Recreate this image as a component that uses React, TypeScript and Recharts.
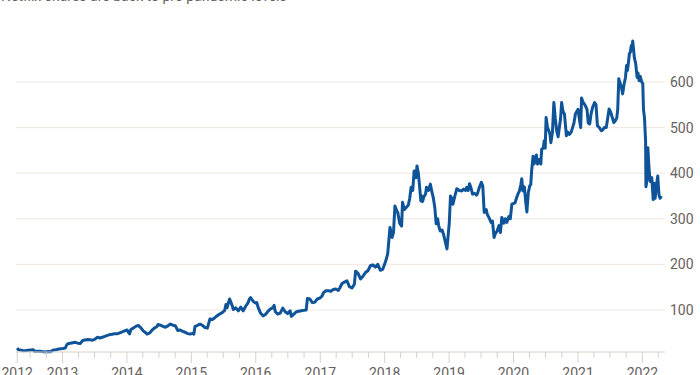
import { LineChart, Line, XAxis, YAxis, CartesianGrid } from 'recharts';

// Netflix share price ($), roughly weekly closes
const p2012: [string, number][] = [
  ['2012-04-19', 16.5], ['2012-04-26', 12.5], ['2012-05-10', 11.8], ['2012-05-24', 10.6], ['2012-06-07', 10.9],
  ['2012-06-21', 11.5], ['2012-07-05', 12.2], ['2012-07-19', 12.6], ['2012-07-26', 9.4], ['2012-08-09', 9.1],
  ['2012-08-23', 9.6], ['2012-09-06', 8.6], ['2012-09-20', 8.1], ['2012-09-27', 7.7], ['2012-10-11', 8.8],
  ['2012-10-25', 8.3], ['2012-11-08', 11.8], ['2012-11-22', 12.4], ['2012-12-06', 13.6], ['2012-12-20', 14.8],
];
const p2013: [string, number][] = [
  ['2013-01-03', 15.5], ['2013-01-17', 16.5], ['2013-01-24', 23], ['2013-01-31', 26], ['2013-02-14', 27],
  ['2013-02-28', 28], ['2013-03-14', 29], ['2013-03-28', 27], ['2013-04-11', 26.5], ['2013-04-25', 33],
  ['2013-05-09', 34], ['2013-05-23', 35], ['2013-06-06', 34.5], ['2013-06-20', 33.5], ['2013-07-04', 36],
  ['2013-07-18', 40], ['2013-08-01', 38.5], ['2013-08-15', 40], ['2013-08-29', 42], ['2013-09-12', 44],
  ['2013-09-26', 46], ['2013-10-10', 46.5], ['2013-10-24', 48], ['2013-11-07', 47.5], ['2013-11-21', 49.5],
  ['2013-12-05', 52], ['2013-12-19', 54],
];
const p2014: [string, number][] = [
  ['2014-01-02', 56], ['2014-01-09', 51], ['2014-01-16', 47.5], ['2014-01-23', 57], ['2014-02-06', 60],
  ['2014-02-20', 64], ['2014-03-06', 66], ['2014-03-20', 61], ['2014-04-03', 54], ['2014-04-17', 50],
  ['2014-04-24', 47], ['2014-05-08', 49], ['2014-05-22', 55], ['2014-06-05', 60], ['2014-06-19', 63],
  ['2014-06-26', 68], ['2014-07-10', 66.5], ['2014-07-24', 64], ['2014-08-07', 62], ['2014-08-21', 65],
  ['2014-09-04', 69], ['2014-09-18', 66.5], ['2014-10-02', 65.5], ['2014-10-16', 55], ['2014-10-30', 56],
  ['2014-11-13', 53], ['2014-11-27', 51], ['2014-12-11', 48], ['2014-12-25', 47],
];
const p2015: [string, number][] = [
  ['2015-01-08', 48.5], ['2015-01-15', 47], ['2015-01-22', 64], ['2015-02-05', 66], ['2015-02-19', 69],
  ['2015-03-05', 66], ['2015-03-19', 61.5], ['2015-04-02', 60], ['2015-04-16', 80], ['2015-04-30', 79],
  ['2015-05-14', 83], ['2015-05-28', 87.5], ['2015-06-11', 91], ['2015-06-25', 94], ['2015-07-09', 99],
  ['2015-07-16', 112], ['2015-07-23', 105], ['2015-07-30', 116], ['2015-08-06', 124], ['2015-08-20', 110],
  ['2015-08-27', 101], ['2015-09-10', 104.5], ['2015-09-24', 98], ['2015-10-08', 106], ['2015-10-22', 98],
  ['2015-11-05', 108], ['2015-11-19', 116], ['2015-11-26', 124], ['2015-12-03', 127], ['2015-12-17', 119],
  ['2015-12-31', 115],
];
const p2016: [string, number][] = [
  ['2016-01-07', 116], ['2016-01-14', 106], ['2016-01-28', 93], ['2016-02-11', 87], ['2016-02-25', 90],
  ['2016-03-10', 97], ['2016-03-24', 102], ['2016-04-07', 105], ['2016-04-14', 110], ['2016-04-21', 96],
  ['2016-05-05', 91], ['2016-05-19', 93], ['2016-06-02', 104], ['2016-06-16', 96], ['2016-06-30', 92],
  ['2016-07-14', 98], ['2016-07-21', 86], ['2016-08-04', 91], ['2016-08-18', 96], ['2016-09-01', 97],
  ['2016-09-15', 98], ['2016-09-29', 99], ['2016-10-13', 100], ['2016-10-20', 125], ['2016-11-03', 124],
  ['2016-11-17', 116], ['2016-12-01', 117], ['2016-12-15', 124], ['2016-12-29', 126],
];
const p2017: [string, number][] = [
  ['2017-01-12', 131], ['2017-01-19', 138], ['2017-02-02', 142], ['2017-02-16', 142], ['2017-03-02', 141],
  ['2017-03-16', 145], ['2017-03-30', 146], ['2017-04-13', 143], ['2017-04-20', 147], ['2017-05-04', 158],
  ['2017-05-18', 161], ['2017-06-01', 164], ['2017-06-15', 151], ['2017-06-29', 148], ['2017-07-13', 156],
  ['2017-07-20', 185], ['2017-08-03', 180], ['2017-08-17', 168], ['2017-08-31', 174], ['2017-09-14', 182],
  ['2017-09-28', 186], ['2017-10-12', 197], ['2017-10-26', 199], ['2017-11-09', 194], ['2017-11-23', 200],
  ['2017-12-07', 187], ['2017-12-21', 189],
];
const p2018: [string, number][] = [
  ['2018-01-01', 201], ['2018-01-09', 210], ['2018-01-18', 223], ['2018-01-31', 281], ['2018-02-12', 259],
  ['2018-02-20', 270], ['2018-02-28', 328], ['2018-03-10', 318], ['2018-03-16', 314], ['2018-03-27', 290],
  ['2018-04-07', 284], ['2018-04-12', 336], ['2018-04-23', 320], ['2018-05-04', 325], ['2018-05-15', 330],
  ['2018-05-23', 345], ['2018-05-31', 369], ['2018-06-09', 362], ['2018-06-17', 405], ['2018-06-22', 395],
  ['2018-06-28', 390], ['2018-07-03', 416], ['2018-07-11', 400], ['2018-07-25', 339], ['2018-07-30', 350],
  ['2018-08-04', 338], ['2018-08-10', 347], ['2018-08-21', 355], ['2018-08-26', 369], ['2018-09-06', 362],
  ['2018-09-17', 376], ['2018-09-25', 360], ['2018-10-03', 347], ['2018-10-12', 325], ['2018-10-20', 289],
  ['2018-10-28', 300], ['2018-11-03', 285], ['2018-11-12', 273], ['2018-11-23', 275], ['2018-12-01', 265],
  ['2018-12-20', 234],
];
const p2019: [string, number][] = [
  ['2019-01-02', 290], ['2019-01-09', 350], ['2019-01-17', 345], ['2019-01-23', 332], ['2019-02-03', 350],
  ['2019-02-14', 366], ['2019-02-28', 362], ['2019-03-14', 361], ['2019-03-25', 365], ['2019-04-05', 362],
  ['2019-04-11', 369], ['2019-04-19', 362], ['2019-04-27', 377], ['2019-05-05', 368], ['2019-05-14', 354],
  ['2019-05-25', 356], ['2019-06-05', 352], ['2019-06-10', 354], ['2019-06-21', 368], ['2019-07-03', 380],
  ['2019-07-11', 372], ['2019-07-19', 314], ['2019-07-31', 320], ['2019-08-05', 310], ['2019-08-16', 302],
  ['2019-08-27', 292], ['2019-09-04', 295], ['2019-09-13', 259], ['2019-09-21', 268], ['2019-09-30', 273],
  ['2019-10-11', 285], ['2019-10-19', 270], ['2019-10-27', 303], ['2019-11-07', 290], ['2019-11-16', 300],
  ['2019-11-24', 292], ['2019-12-06', 305], ['2019-12-14', 300], ['2019-12-23', 332],
];
const p2020: [string, number][] = [
  ['2020-01-10', 335], ['2020-01-18', 345], ['2020-01-26', 354], ['2020-02-03', 360], ['2020-02-12', 375],
  ['2020-02-17', 388], ['2020-02-23', 361], ['2020-03-03', 370], ['2020-03-11', 335], ['2020-03-17', 315],
  ['2020-03-25', 357], ['2020-04-02', 372], ['2020-04-08', 375], ['2020-04-13', 405], ['2020-04-21', 437],
  ['2020-04-27', 420], ['2020-05-02', 432], ['2020-05-10', 440], ['2020-05-16', 420], ['2020-05-27', 430],
  ['2020-06-04', 420], ['2020-06-09', 453], ['2020-06-18', 455], ['2020-06-23', 471], ['2020-06-29', 455],
  ['2020-07-04', 522], ['2020-07-12', 500], ['2020-07-20', 493], ['2020-07-26', 485], ['2020-07-31', 467],
  ['2020-08-09', 490], ['2020-08-17', 555], ['2020-08-25', 520], ['2020-09-02', 493], ['2020-09-10', 480],
  ['2020-09-19', 505], ['2020-09-24', 520], ['2020-09-30', 555], ['2020-10-08', 535], ['2020-10-16', 530],
  ['2020-10-27', 482], ['2020-11-04', 490], ['2020-11-12', 485], ['2020-11-23', 490], ['2020-12-01', 500],
  ['2020-12-09', 510], ['2020-12-17', 530],
];
const p2021: [string, number][] = [
  ['2021-01-01', 540], ['2021-01-08', 520], ['2021-01-16', 500], ['2021-01-21', 565], ['2021-01-30', 555],
  ['2021-02-09', 550], ['2021-02-21', 540], ['2021-02-28', 510], ['2021-03-08', 508], ['2021-03-16', 530],
  ['2021-03-25', 545], ['2021-04-05', 555], ['2021-04-13', 550], ['2021-04-21', 504], ['2021-05-02', 500],
  ['2021-05-13', 493], ['2021-05-21', 495], ['2021-05-30', 500], ['2021-06-10', 500], ['2021-06-18', 520],
  ['2021-06-26', 541], ['2021-07-04', 535], ['2021-07-12', 525], ['2021-07-23', 511], ['2021-07-31', 515],
  ['2021-08-09', 522], ['2021-08-14', 540], ['2021-08-20', 607], ['2021-09-03', 590], ['2021-09-11', 574],
  ['2021-09-19', 595], ['2021-09-27', 610], ['2021-10-03', 636], ['2021-10-08', 625], ['2021-10-13', 640],
  ['2021-10-19', 662], ['2021-10-24', 665], ['2021-10-30', 680], ['2021-11-03', 670], ['2021-11-07', 690],
  ['2021-11-11', 675], ['2021-11-16', 654], ['2021-11-24', 640], ['2021-12-02', 610], ['2021-12-07', 620],
  ['2021-12-13', 603], ['2021-12-20', 612], ['2021-12-28', 600],
];
const p2022: [string, number][] = [
  ['2022-01-03', 597], ['2022-01-07', 540], ['2022-01-13', 520], ['2022-01-19', 470], ['2022-01-21', 370],
  ['2022-01-27', 385], ['2022-02-01', 456], ['2022-02-07', 412], ['2022-02-14', 382], ['2022-02-23', 390],
  ['2022-03-03', 342], ['2022-03-08', 378], ['2022-03-14', 345], ['2022-03-23', 378], ['2022-03-29', 394],
  ['2022-04-01', 374], ['2022-04-05', 352], ['2022-04-11', 345], ['2022-04-19', 350],
];

const priceTicks = [100, 200, 300, 400, 500, 600];
const tickMonths = [0, 3, 6, 9];
const title = 'Netflix shares are back to pre-pandemic levels';

const series = [...p2012, ...p2013, ...p2014, ...p2015, ...p2016, ...p2017, ...p2018, ...p2019, ...p2020, ...p2021, ...p2022];
const data = series.map(([d, v]) => ({ t: Date.parse(d), price: v }));
const firstT = data[0].t;
const lastT = data[data.length - 1].t;
const minP = Math.min(...data.map((d) => d.price));
const maxP = Math.max(...data.map((d) => d.price));

const xTicks: number[] = [firstT];
for (let y = 2012; y <= 2022; y++) {
  for (const m of tickMonths) {
    const t = Date.UTC(y, m, 1);
    if (t > firstT && t <= lastT) xTicks.push(t);
  }
}

const font = 'Roboto, sans-serif';
const labelColor = '#66605c';

const DateTick = (props: any) => {
  const { x, y, payload } = props;
  const d = new Date(payload.value);
  const isYear = payload.value === firstT || d.getUTCMonth() === 0;
  return (
    <g>
      <line x1={x} x2={x} y1={y} y2={y + (isYear ? 11 : 6)} stroke="#d9d0c8" strokeWidth={1} />
      {isYear && (
        <text x={x} y={y + 26} textAnchor="middle" fill={labelColor} fontSize={14} fontFamily={font}>
          {d.getUTCFullYear()}
        </text>
      )}
    </g>
  );
};

export default function App() {
  return (
    <div style={{ position: 'absolute', left: 0, top: 0, width: 700, height: 375, overflow: 'hidden', background: '#fff' }}>
      <div style={{ position: 'absolute', left: 1, top: -11, fontFamily: font, fontSize: 14, lineHeight: '14px', color: labelColor, whiteSpace: 'nowrap' }}>
        {title}
      </div>
      <LineChart width={700} height={375} data={data} margin={{ top: 41, right: 0, bottom: 0, left: 16 }}>
        <CartesianGrid vertical={false} horizontalValues={priceTicks} stroke="#efe7e1" />
        <XAxis
          dataKey="t"
          type="number"
          domain={[Date.UTC(2012, 3, 12), Date.UTC(2022, 4, 9)]}
          ticks={xTicks}
          interval={0}
          height={23}
          tickSize={0}
          tickMargin={0}
          tickLine={false}
          axisLine={{ stroke: '#d9d0c8' }}
          tick={<DateTick />}
        />
        <YAxis
          orientation="right"
          width={35}
          domain={[minP, maxP]}
          ticks={priceTicks}
          axisLine={false}
          tickLine={false}
          tickSize={0}
          tickMargin={5}
          tick={{ fill: labelColor, fontSize: 14, fontFamily: font }}
        />
        <Line
          type="linear"
          dataKey="price"
          stroke="#0f5499"
          strokeWidth={3}
          strokeLinejoin="round"
          dot={false}
          isAnimationActive={false}
        />
      </LineChart>
    </div>
  );
}
